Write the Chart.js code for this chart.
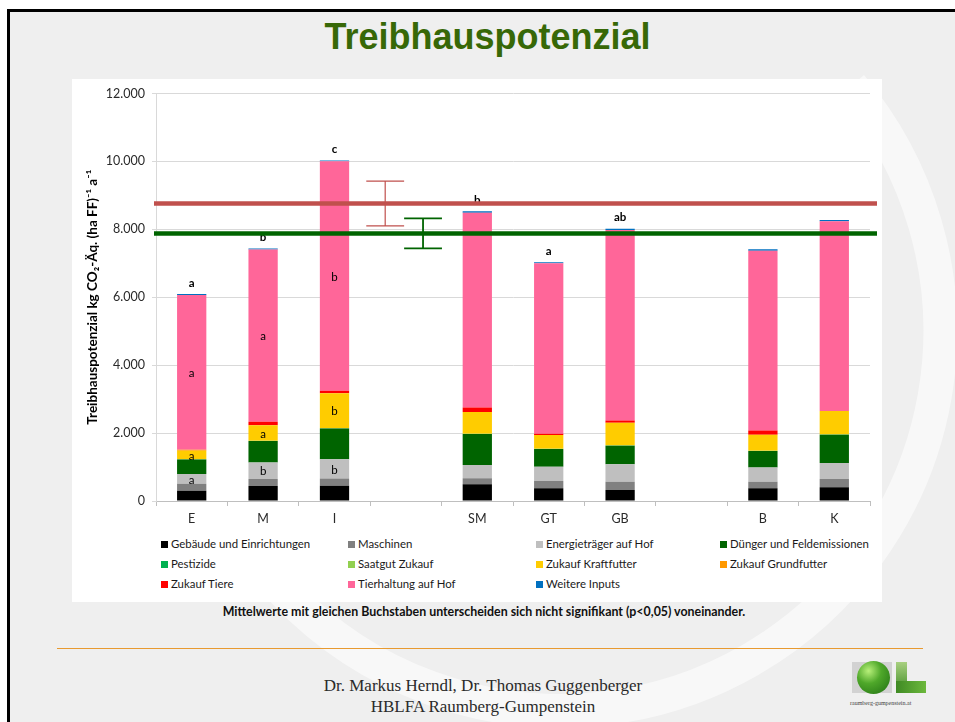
<!DOCTYPE html>
<html>
<head>
<meta charset="utf-8">
<script src="https://cdn.jsdelivr.net/npm/chart.js@4.4.1/dist/chart.umd.min.js"></script>
<style>
  body { margin: 0; width: 955px; height: 722px; overflow: hidden; background: #fff; position: relative; }
  #slide { position: absolute; left: 7px; top: 9px; width: 960px; height: 730px; border: 3px solid #000; background: #efefef; overflow: hidden; }
  #swoosh { position: absolute; left: -10px; top: -12px; }
  #title { position: absolute; left: 0; width: 975px; top: 16px; text-align: center; font: bold 36px "Liberation Sans", Arial, sans-serif; color: #376807; }
  #panel { position: absolute; left: 72px; top: 79px; width: 810px; height: 523px; background: #fff; }
  #wrap { position: absolute; left: 72px; top: 79px; width: 810px; height: 451px; }
  .lg { position: absolute; font: 11.4px Lato, sans-serif; color: #1a1a1a; white-space: nowrap; line-height: 14px; }
  .lg i { display: inline-block; width: 7px; height: 7px; margin-right: 3px; vertical-align: 0px; }
  #note { position: absolute; left: 72px; width: 824px; top: 604px; text-align: center; font: bold 12.4px Lato, sans-serif; color: #111; }
  #rule { position: absolute; left: 57px; top: 648px; width: 866px; height: 1px; background: #e89a30; }
  .foot { position: absolute; left: 0; width: 966px; text-align: center; font: 17px "Liberation Serif", "Times New Roman", serif; color: #2a2a2a; }
  #logo { position: absolute; left: 852px; top: 662px; width: 74px; height: 48px; }
  #logo .sq { position: absolute; left: 0; top: 0; width: 40px; height: 31px; background: #d2d2d2; }
  #logo .ball { position: absolute; left: 5px; top: -1px; width: 33px; height: 33px; border-radius: 50%; background: radial-gradient(circle at 35% 30%, #b8f07a 0%, #4fa82a 40%, #1f6e12 100%); }
  #logo .l1 { position: absolute; left: 44px; top: 0; width: 11px; height: 31px; background: linear-gradient(#a8d080, #3d8a24); }
  #logo .l2 { position: absolute; left: 44px; top: 19px; width: 30px; height: 12px; background: linear-gradient(90deg, #3f8a24, #6cb83c); }
  #logo .url { position: absolute; left: -2px; top: 38px; font: 6px "Liberation Serif", serif; color: #444; }
</style>
</head>
<body>
<div id="slide">
  <svg id="swoosh" width="980" height="750">
    <path d="M 851 86 A 380 380 0 1 1 203 460" fill="none" stroke="#ffffff" stroke-opacity="0.55" stroke-width="34"/>
  </svg>
</div>
<div id="title">Treibhauspotenzial</div>
<div id="panel"></div>
<div id="wrap"><canvas id="myChart"></canvas></div>
<div id="legend"></div>
<div id="note">Mittelwerte mit gleichen Buchstaben unterscheiden sich nicht signifikant (p&lt;0,05) voneinander.</div>
<div id="rule"></div>
<div class="foot" style="top:676px">Dr. Markus Herndl, Dr. Thomas Guggenberger</div>
<div class="foot" style="top:697px">HBLFA Raumberg-Gumpenstein</div>
<div id="logo"><div class="sq"></div><div class="ball"></div><div class="l1"></div><div class="l2"></div><div class="url">raumberg-gumpenstein.at</div></div>

<script>
// categories (empty strings are the gaps between the groups)
var categories = ['E', 'M', 'I', '', 'SM', 'GT', 'GB', '', 'B', 'K'];

// kg CO2-Äq. per ha FF and year
var gebaeude    = [300, 440, 450, null, 490, 373, 323, null, 373, 402];
var maschinen   = [210, 205, 216, null, 177, 215, 245, null, 195, 245];
var energie     = [285, 490, 560, null, 392, 422, 512, null, 422, 471];
var duenger     = [430, 630, 910, null, 911, 520, 547, null, 480, 832];
var pestizide   = [5, 4, 6, null, 5, 4, 5, null, 4, 5];
var saatgut     = [3, 4, 4, null, 5, 4, 5, null, 4, 5];
var kraftfutter = [245, 460, 1030, null, 638, 402, 667, null, 471, 688];
var grundfutter = [30, 0, 0, null, 0, 0, 0, null, 0, 0];
var zukaufTiere = [0, 100, 70, null, 137, 38, 68, null, 127, 0];
var tierhaltung = [4560, 5075, 6760, null, 5735, 5020, 5608, null, 5295, 5588];
var weitere     = [30, 30, 20, null, 40, 30, 40, null, 40, 40];

// significance letters
var topLetters     = ['a', 'b', 'c', '', 'b', 'a', 'ab', '', '', ''];
var energieLetters = ['a', 'b', 'b', '', '', '', '', '', '', ''];
var kraftLetters   = ['a', 'a', 'b', '', '', '', '', '', '', ''];
var tierLetters    = ['a', 'a', 'b', '', '', '', '', '', '', ''];

// overall means with error bars (red, green)
var meanValues = [8760, 7880];
var meanErrors = [660, 440];

var yTicks = [0, 2000, 4000, 6000, 8000, 10000, 12000];

var meanColors = ['#c0504d', '#006400'];

function fmt(v) {
  return String(v).replace(/\B(?=(\d{3})+(?!\d))/g, '.');
}

var series = [
  { label: 'Gebäude und Einrichtungen', data: gebaeude, color: '#000000' },
  { label: 'Maschinen', data: maschinen, color: '#808080' },
  { label: 'Energieträger auf Hof', data: energie, color: '#bfbfbf' },
  { label: 'Dünger und Feldemissionen', data: duenger, color: '#006400' },
  { label: 'Pestizide', data: pestizide, color: '#00b050' },
  { label: 'Saatgut Zukauf', data: saatgut, color: '#92d050' },
  { label: 'Zukauf Kraftfutter', data: kraftfutter, color: '#ffcc00' },
  { label: 'Zukauf Grundfutter', data: grundfutter, color: '#ff9900' },
  { label: 'Zukauf Tiere', data: zukaufTiere, color: '#ff0000' },
  { label: 'Tierhaltung auf Hof', data: tierhaltung, color: '#ff6699' },
  { label: 'Weitere Inputs', data: weitere, color: '#0070c0' }
];

var datasets = series.map(function (s) {
  return {
    label: s.label,
    data: s.data,
    backgroundColor: s.color,
    borderWidth: 0,
    barPercentage: 0.41,
    categoryPercentage: 1
  };
});

// letters inside the bars and on top of them
var lettersPlugin = {
  id: 'letters',
  afterDatasetsDraw: function (chart) {
    var ctx = chart.ctx, x = chart.scales.x, y = chart.scales.y;
    ctx.save();
    ctx.textAlign = 'center';
    ctx.textBaseline = 'middle';
    ctx.fillStyle = '#000';
    function inner(letters, dsIndex) {
      letters.forEach(function (l, i) {
        if (!l) return;
        var base = 0;
        for (var d = 0; d < dsIndex; d++) base += series[d].data[i] || 0;
        var mid = base + series[dsIndex].data[i] / 2;
        ctx.fillText(l, x.getPixelForValue(i), y.getPixelForValue(mid) + 1);
      });
    }
    ctx.font = '11.5px Lato, sans-serif';
    inner(energieLetters, 2);
    inner(kraftLetters, 6);
    inner(tierLetters, 9);
    ctx.font = 'bold 11.5px Lato, sans-serif';
    topLetters.forEach(function (l, i) {
      if (!l) return;
      var total = 0;
      series.forEach(function (s) { total += s.data[i] || 0; });
      ctx.fillText(l, x.getPixelForValue(i), y.getPixelForValue(total) - 11);
    });
    ctx.restore();
  }
};

// mean lines across the plot and their error bars in the first gap
var meansPlugin = {
  id: 'means',
  afterDatasetsDraw: function (chart) {
    var ctx = chart.ctx, x = chart.scales.x, y = chart.scales.y, a = chart.chartArea;
    var cw = x.getPixelForValue(1) - x.getPixelForValue(0);
    var gap = categories.indexOf('');
    var offs = [-0.29, 0.24];
    ctx.save();
    meanValues.forEach(function (m, k) {
      var py = y.getPixelForValue(m);
      ctx.strokeStyle = meanColors[k];
      ctx.lineWidth = 4.5;
      ctx.beginPath();
      ctx.moveTo(a.left - 2, py);
      ctx.lineTo(a.right + 7, py);
      ctx.stroke();
    });
    meanValues.forEach(function (m, k) {
      var cx = x.getPixelForValue(gap) + offs[k] * cw;
      var hi = y.getPixelForValue(m + meanErrors[k]);
      var lo = y.getPixelForValue(m - meanErrors[k]);
      var half = cw * 0.265;
      ctx.strokeStyle = meanColors[k];
      ctx.lineWidth = k === 0 ? 1.2 : 1.8;
      ctx.beginPath();
      ctx.moveTo(cx, hi); ctx.lineTo(cx, lo);
      ctx.moveTo(cx - half, hi); ctx.lineTo(cx + half, hi);
      ctx.moveTo(cx - half, lo); ctx.lineTo(cx + half, lo);
      ctx.stroke();
    });
    ctx.restore();
  }
};

var chart = new Chart(document.getElementById('myChart'), {
  type: 'bar',
  data: { labels: categories, datasets: datasets },
  options: {
    responsive: true,
    maintainAspectRatio: false,
    animation: false,
    layout: { padding: { top: 14, right: 12, left: 0, bottom: 0 } },
    plugins: {
      legend: { display: false },
      tooltip: { enabled: false }
    },
    scales: {
      x: {
        stacked: true,
        grid: { offset: true, drawOnChartArea: false, tickLength: 5, color: '#bfbfbf' },
        border: { color: '#bfbfbf' },
        ticks: { color: '#2a2a2a', font: { family: 'Lato', size: 12.5 }, padding: 5 },
        afterFit: function (s) { s.height = 29; }
      },
      y: {
        stacked: true,
        min: 0,
        max: 12000,
        afterBuildTicks: function (s) { s.ticks = yTicks.map(function (v) { return { value: v }; }); },
        grid: { color: '#d9d9d9', tickLength: 4 },
        border: { color: '#d9d9d9' },
        ticks: {
          color: '#2a2a2a',
          font: { family: 'Lato', size: 12.5 },
          padding: 7,
          callback: function (v) { return fmt(v); }
        },
        title: {
          display: true,
          text: 'Treibhauspotenzial kg CO\u2082-\u00c4q. (ha FF)\u207b\u00b9 a\u207b\u00b9',
          color: '#000',
          font: { family: 'Lato', size: 13.5, weight: 'bold' },
          padding: { top: 13, bottom: 4 }
        },
        afterFit: function (s) { s.width = 84; }
      }
    }
  },
  plugins: [lettersPlugin, meansPlugin]
});

// legend in four columns, built from the chart's datasets
var colX = [161, 348, 536, 720];
var rowY = [537, 557, 577];
var legend = document.getElementById('legend');
chart.data.datasets.forEach(function (ds, i) {
  var el = document.createElement('div');
  el.className = 'lg';
  el.style.left = colX[i % 4] + 'px';
  el.style.top = rowY[Math.floor(i / 4)] + 'px';
  el.innerHTML = '<i style="background:' + ds.backgroundColor + '"></i>' + ds.label;
  legend.appendChild(el);
});
</script>
</body>
</html>
